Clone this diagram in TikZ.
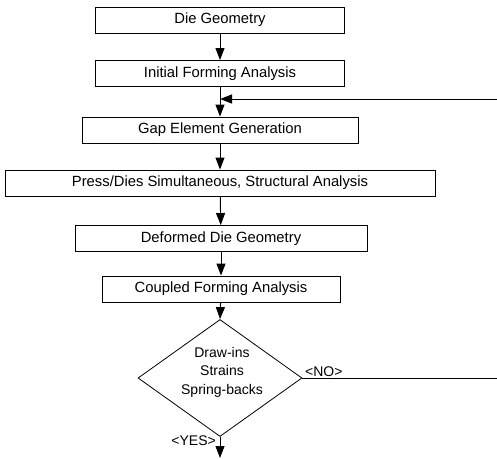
\documentclass[tikz,border=0pt]{standalone}
\usepackage{fontspec}
\setmainfont{Liberation Sans}
\usetikzlibrary{arrows.meta,shapes.geometric}
\begin{document}
\begin{tikzpicture}[x=1pt,y=-1pt,
  stepbox/.style={draw=black,line width=0.9pt,minimum height=26pt,inner sep=0pt,font=\fontsize{14.8}{16}\selectfont},
  flow/.style={line width=1pt,-{Triangle[length=12pt,width=9pt]}},
  lbl/.style={font=\fontsize{14}{15}\selectfont,inner sep=0pt}]
\useasboundingbox (0,0) rectangle (497,458);
\node[stepbox,minimum width=249pt] (die) at (220,20) {Die Geometry};
\node[stepbox,minimum width=249pt] (init) at (220,73.5) {Initial Forming Analysis};
\node[stepbox,minimum width=276pt] (gap) at (220,130) {Gap Element Generation};
\node[stepbox,minimum width=430pt] (press) at (220,183) {Press/Dies Simultaneous, Structural Analysis};
\node[stepbox,minimum width=292pt] (def) at (221,238.5) {Deformed Die Geometry};
\node[stepbox,minimum width=238pt] (coup) at (221,289) {Coupled Forming Analysis};
\node[draw=black,line width=0.8pt,diamond,minimum width=164pt,minimum height=117pt,inner sep=0pt] (dec) at (220,378) {};
\node[align=center,font=\fontsize{14}{18.5}\selectfont] (dectext) at (222,372) {Draw-ins\\Strains\\Spring-backs};
\node[lbl,anchor=south west] (no) at (305,377) {<NO>};
\node[lbl,anchor=east] (yes) at (216,441) {<YES>};
\coordinate (fbin) at (497,99);
\coordinate (fbjoin) at (220,99);
\coordinate (noout) at (497,378);
\coordinate (endpt) at (220,458);
\draw[flow] (die) -- (init);
\draw[flow] (init) -- (gap);
\draw[flow] (gap) -- (press);
\draw[flow] (press) -- (def);
\draw[flow] (def) -- (coup);
\draw[flow] (coup) -- (dec.north);
\draw[flow] (dec.south) -- (endpt);
\draw[flow] (fbin) -- (fbjoin);
\draw[line width=0.8pt] (dec.east) -- (noout);
\end{tikzpicture}
\end{document}
